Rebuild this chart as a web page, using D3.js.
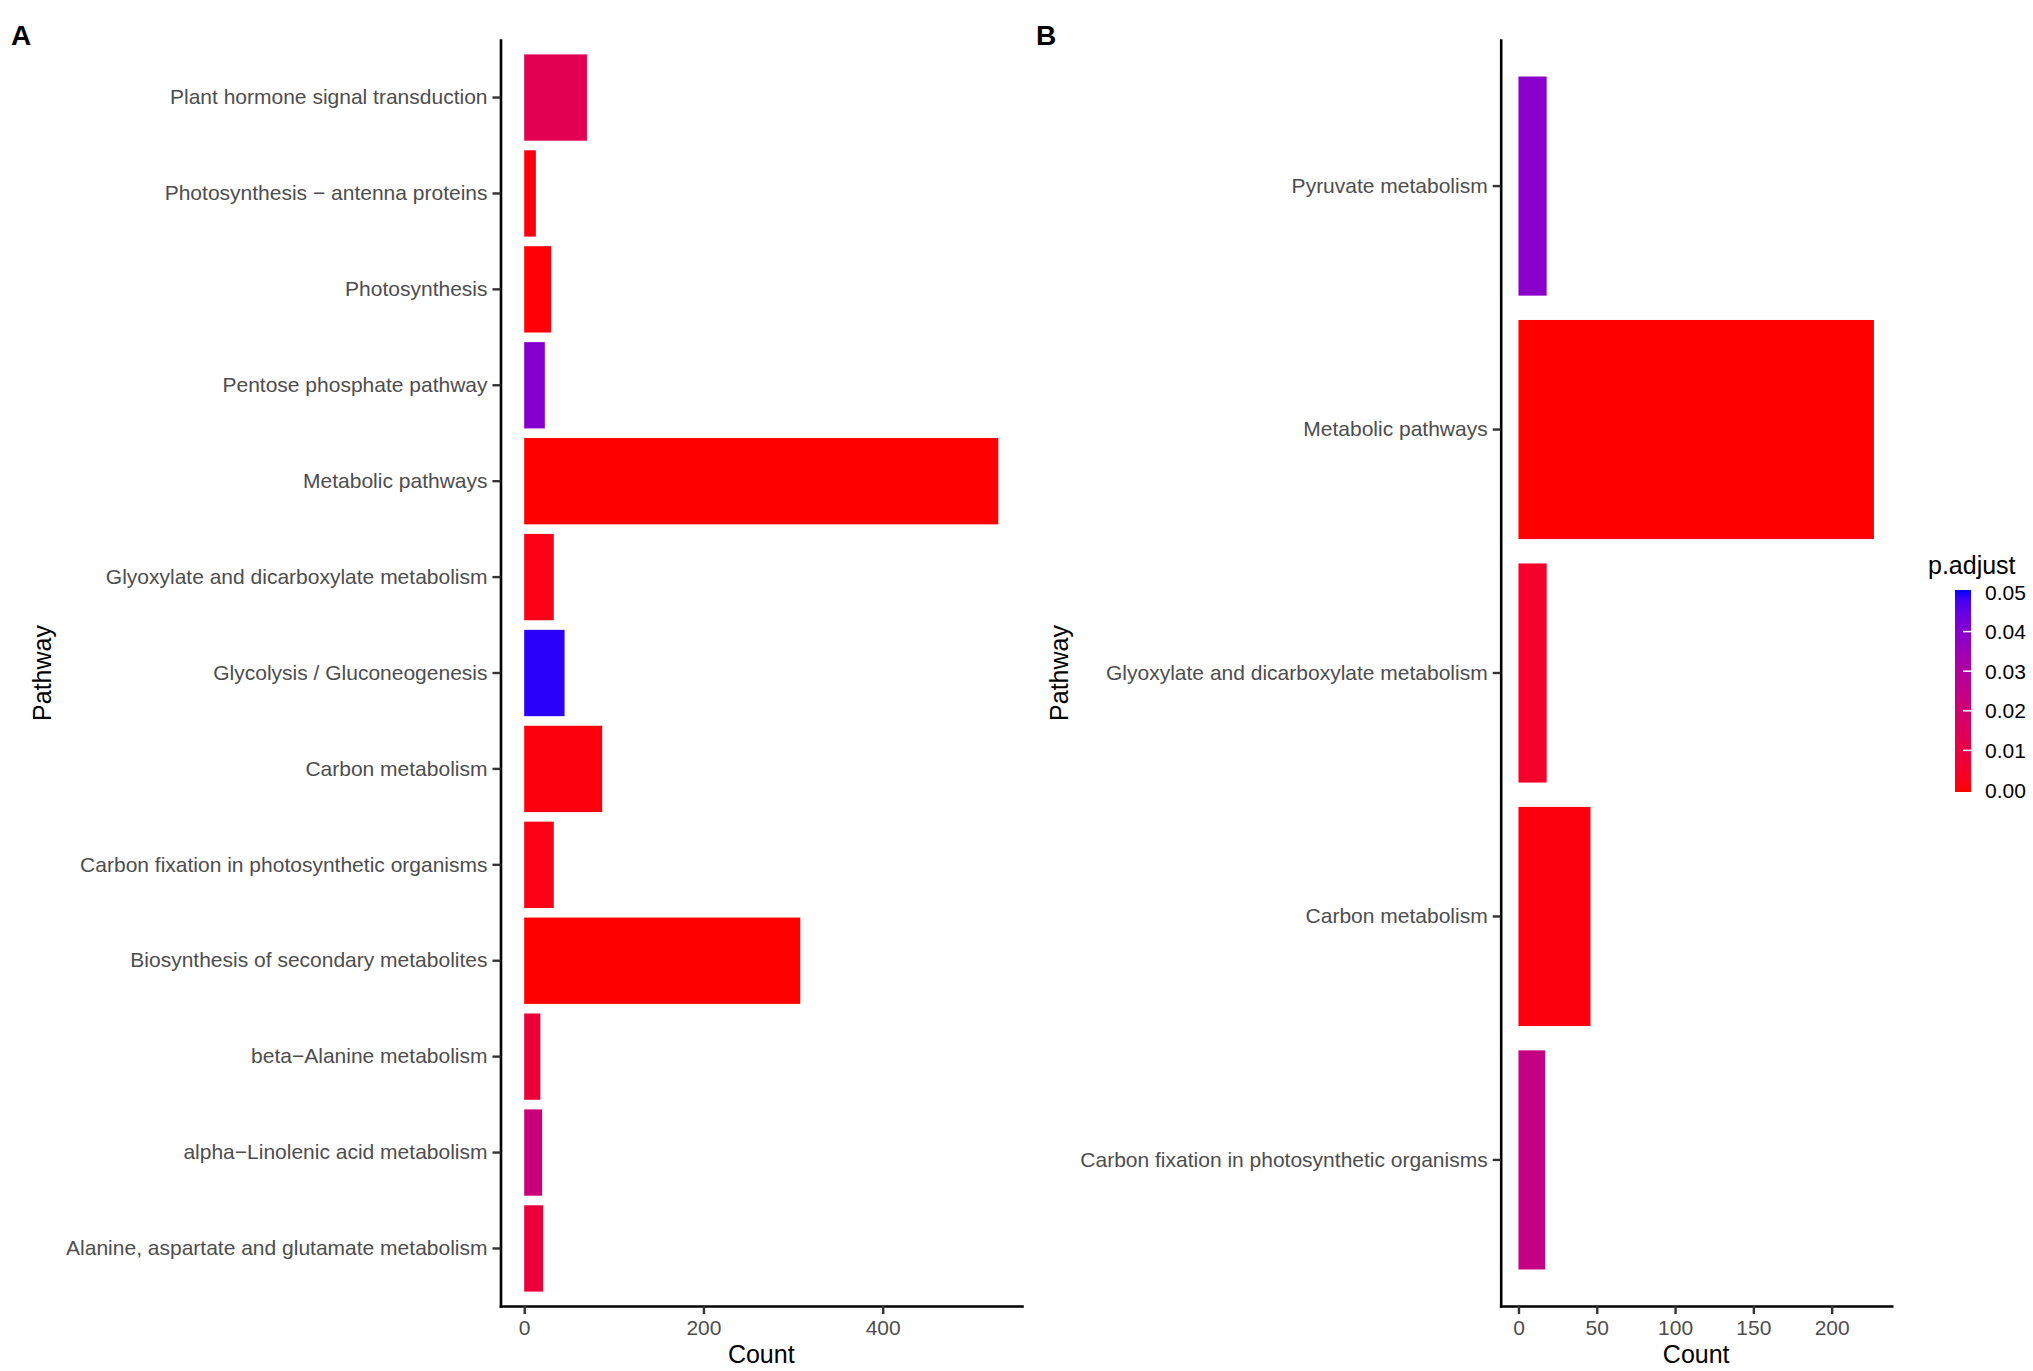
<!DOCTYPE html>
<html>
<head>
<meta charset="utf-8">
<script src="https://cdn.jsdelivr.net/npm/d3@7/dist/d3.min.js"></script>
<style>
    body { margin: 0; background: #fff; }
    text { font-family: "Liberation Sans", Arial, Helvetica, sans-serif; }
</style>
</head>
<body>
<div id="chart"></div>
<script>

// panel A - pathways listed top to bottom
const pathwaysA = [
    "Plant hormone signal transduction",
    "Photosynthesis \u2212 antenna proteins",
    "Photosynthesis",
    "Pentose phosphate pathway",
    "Metabolic pathways",
    "Glyoxylate and dicarboxylate metabolism",
    "Glycolysis / Gluconeogenesis",
    "Carbon metabolism",
    "Carbon fixation in photosynthetic organisms",
    "Biosynthesis of secondary metabolites",
    "beta\u2212Alanine metabolism",
    "alpha\u2212Linolenic acid metabolism",
    "Alanine, aspartate and glutamate metabolism"
];
const countsA = [70, 13, 30, 23, 529, 33, 45, 87, 33, 308, 18, 20, 21];
const padjA = [0.013, 0.001, 0.0005, 0.040, 0.0, 0.002, 0.049, 0.001, 0.002, 0.0, 0.008, 0.022, 0.008];
const xTicksA = [0, 200, 400];

// panel B
const pathwaysB = [
    "Pyruvate metabolism",
    "Metabolic pathways",
    "Glyoxylate and dicarboxylate metabolism",
    "Carbon metabolism",
    "Carbon fixation in photosynthetic organisms"
];
const countsB = [18, 227, 18, 46, 17];
const padjB = [0.039, 0.0, 0.005, 0.001, 0.024];
const xTicksB = [0, 50, 100, 150, 200];

// colour legend
const legendTicks = [0, 0.01, 0.02, 0.03, 0.04, 0.05];
const padjLimits = [0, 0.05];


let svg = d3.select("#chart").append("svg")
    .attr("width", 2033)
    .attr("height", 1371);

// red -> blue, interpolated in Lab like ggplot does
let colorScale = d3.scaleLinear()
    .domain(padjLimits)
    .range(["red", "blue"])
    .interpolate(d3.interpolateLab);


class BarVis {

    constructor(svg, config, pathways, counts, padj, xTicks) {
        this.svg = svg;
        this.config = config;
        this.pathways = pathways;
        this.counts = counts;
        this.padj = padj;
        this.xTicks = xTicks;

        this.initVis();
    }

    initVis() {
        let vis = this;
        let c = vis.config;

        vis.data = vis.pathways.map((p, i) => ({pathway: p, count: vis.counts[i], padj: vis.padj[i]}));

        let maxCount = d3.max(vis.counts);

        // ggplot style expansion: 5% each side on x, 0.6 units on y
        vis.x = d3.scaleLinear()
            .domain([-0.05 * maxCount, 1.05 * maxCount])
            .range([c.left, c.right]);

        vis.y = d3.scaleBand()
            .domain(vis.pathways)
            .range([c.top, c.bottom])
            .paddingInner(0.1)
            .paddingOuter(0.15);

        vis.g = vis.svg.append("g");

        vis.updateVis();
    }

    updateVis() {
        let vis = this;
        let c = vis.config;

        vis.g.selectAll("rect.bar")
            .data(vis.data)
            .enter()
            .append("rect")
            .attr("class", "bar")
            .attr("x", vis.x(0))
            .attr("y", d => vis.y(d.pathway))
            .attr("width", d => vis.x(d.count) - vis.x(0))
            .attr("height", vis.y.bandwidth())
            .attr("fill", d => colorScale(d.padj));

        // y axis
        let yAxis = vis.g.append("g")
            .attr("transform", `translate(${c.left},0)`)
            .call(d3.axisLeft(vis.y).tickSize(8).tickPadding(5).tickSizeOuter(0));

        // x axis
        let xAxis = vis.g.append("g")
            .attr("transform", `translate(0,${c.bottom})`)
            .call(d3.axisBottom(vis.x).tickValues(vis.xTicks).tickSize(8).tickPadding(6).tickSizeOuter(0));

        [yAxis, xAxis].forEach(ax => {
            ax.attr("font-family", null).attr("font-size", null);
            ax.select(".domain")
                .attr("stroke", "#000")
                .attr("stroke-width", 2.6)
                .attr("stroke-linecap", "square");
            ax.selectAll(".tick line")
                .attr("stroke", "#333")
                .attr("stroke-width", 2.4);
            ax.selectAll(".tick text")
                .attr("fill", "#4d4d4d")
                .style("font-size", c.tickFont + "px");
        });

        // axis titles
        vis.g.append("text")
            .attr("x", (c.left + c.right) / 2)
            .attr("y", 1363)
            .attr("text-anchor", "middle")
            .style("font-size", "25px")
            .text("Count");

        vis.g.append("text")
            .attr("transform", `translate(${c.ylabX},${(c.top + c.bottom) / 2}) rotate(-90)`)
            .attr("text-anchor", "middle")
            .style("font-size", "25px")
            .text("Pathway");

        // panel tag
        vis.g.append("text")
            .attr("x", c.tagX)
            .attr("y", 45)
            .style("font-size", "28px")
            .style("font-weight", "bold")
            .text(c.tag);
    }
}


let panelA = new BarVis(svg,
    {left: 500.5, right: 1022, top: 40, bottom: 1306, ylabX: 51, tagX: 11, tag: "A", tickFont: 21},
    pathwaysA, countsA, padjA, xTicksA);

let panelB = new BarVis(svg,
    {left: 1500.7, right: 1891.7, top: 40, bottom: 1306, ylabX: 1068, tagX: 1036, tag: "B", tickFont: 21},
    pathwaysB, countsB, padjB, xTicksB);


// Legend (colour bar)
let legend = svg.append("g").attr("class", "legend");

let barX = 1955, barW = 16, barTop = 590, barBottom = 792;

let grad = svg.append("defs").append("linearGradient")
    .attr("id", "padjGrad")
    .attr("x1", 0).attr("y1", 1)
    .attr("x2", 0).attr("y2", 0);

grad.selectAll("stop")
    .data(d3.range(0, 1.0001, 0.05))
    .enter()
    .append("stop")
    .attr("offset", d => d)
    .attr("stop-color", d => colorScale(padjLimits[0] + d * (padjLimits[1] - padjLimits[0])));

legend.append("rect")
    .attr("x", barX)
    .attr("y", barTop)
    .attr("width", barW)
    .attr("height", barBottom - barTop)
    .attr("fill", "url(#padjGrad)");

let legendY = d3.scaleLinear()
    .domain(padjLimits)
    .range([barBottom - 2, barTop + 2]);

legend.selectAll("line.tick")
    .data(legendTicks.filter(d => d > padjLimits[0] && d < padjLimits[1]))
    .enter()
    .append("line")
    .attr("class", "tick")
    .attr("x1", barX + barW - 8)
    .attr("x2", barX + barW)
    .attr("y1", d => legendY(d))
    .attr("y2", d => legendY(d))
    .attr("stroke", "#fff")
    .attr("stroke-width", 1.5);

legend.selectAll("text.label")
    .data(legendTicks)
    .enter()
    .append("text")
    .attr("class", "label")
    .attr("x", 1985)
    .attr("y", d => legendY(d))
    .attr("dy", "0.36em")
    .style("font-size", "21px")
    .text(d => d3.format(".2f")(d));

legend.append("text")
    .attr("x", 1928)
    .attr("y", 574)
    .style("font-size", "25px")
    .text("p.adjust");

</script>
</body>
</html>
